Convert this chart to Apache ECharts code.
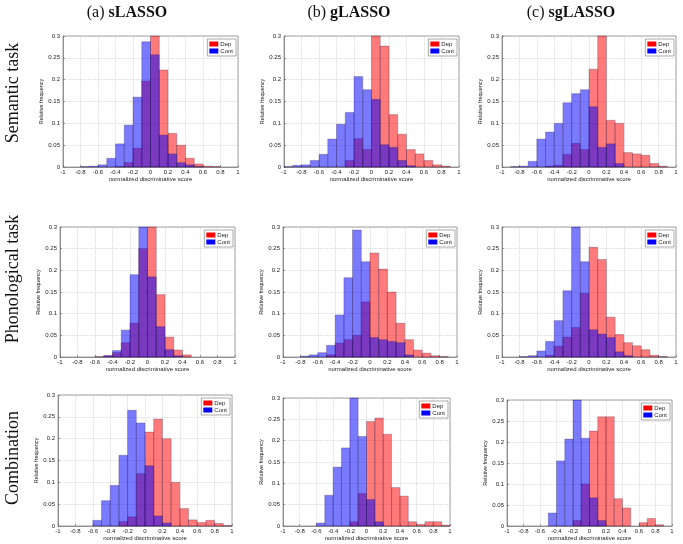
<!DOCTYPE html>
<html><head><meta charset="utf-8">
<script src="https://cdn.jsdelivr.net/npm/echarts@6/dist/echarts.min.js"></script>
<style>html,body{margin:0;padding:0;background:#fff}#c{width:683px;height:544px}</style>
</head><body><div id="c"></div>
<script>
// Histogram bins: left edges, width 0.1
const binStarts = [-1,-0.9,-0.8,-0.7,-0.6,-0.5,-0.4,-0.3,-0.2,-0.1,0,0.1,0.2,0.3,0.4,0.5,0.6,0.7,0.8,0.9];
const binWidth = 0.1;

// Semantic task
const semS_dep  = [0,0,0,0,0,0,0.001,0.01,0.043,0.197,0.30,0.222,0.077,0.05,0.02,0.007,0.002,0.001,0,0];
const semS_cont = [0,0,0.001,0.002,0.005,0.02,0.053,0.096,0.16,0.287,0.257,0.073,0.03,0.01,0.005,0.001,0,0,0,0];
const semG_dep  = [0,0,0,0,0,0,0,0.015,0.065,0.04,0.30,0.277,0.12,0.075,0.04,0.03,0.015,0.005,0.002,0];
const semG_cont = [0.001,0.004,0.005,0.015,0.029,0.064,0.098,0.125,0.207,0.177,0.155,0.051,0.045,0.015,0.003,0,0,0,0,0];
const semSG_dep  = [0,0,0,0,0,0.002,0.004,0.029,0.054,0.04,0.224,0.30,0.107,0.10,0.033,0.03,0.027,0.008,0.002,0];
const semSG_cont = [0,0.001,0.002,0.013,0.064,0.08,0.10,0.147,0.168,0.177,0.138,0.045,0.053,0.008,0,0,0,0,0,0];
// Phonological task
const phoS_dep  = [0,0,0,0,0.001,0.003,0.01,0.033,0.078,0.25,0.30,0.144,0.046,0.016,0.005,0,0,0,0,0];
const phoS_cont = [0,0,0,0,0,0.003,0.015,0.062,0.19,0.30,0.185,0.07,0.017,0.003,0,0,0,0,0,0];
const phoG_dep  = [0,0,0,0,0,0.005,0.032,0.04,0.05,0.127,0.24,0.203,0.15,0.078,0.04,0.016,0.009,0.003,0.001,0];
const phoG_cont = [0,0,0.002,0.005,0.01,0.027,0.097,0.183,0.293,0.22,0.045,0.04,0.036,0.033,0.005,0,0,0,0,0];
const phoSG_dep  = [0,0,0,0,0,0.004,0.025,0.046,0.068,0.147,0.253,0.225,0.092,0.052,0.033,0.026,0.017,0.004,0.001,0];
const phoSG_cont = [0,0,0.001,0.003,0.014,0.036,0.084,0.153,0.30,0.22,0.063,0.053,0.045,0.012,0.003,0,0,0,0,0];
// Combination
const comS_dep  = [0,0,0,0,0,0,0,0.01,0.021,0.12,0.215,0.245,0.20,0.10,0.04,0.014,0.008,0.013,0.006,0.001];
const comS_cont = [0,0,0,0,0.013,0.058,0.093,0.162,0.265,0.236,0.138,0.023,0.007,0,0,0,0,0,0,0];
const comG_dep  = [0,0,0,0,0,0,0,0,0.01,0.076,0.245,0.253,0.215,0.09,0.07,0.01,0.004,0.01,0.01,0.002];
const comG_cont = [0,0,0,0,0.007,0.072,0.138,0.183,0.30,0.21,0.062,0.01,0,0,0,0,0,0,0,0];
const comSG_dep  = [0,0,0,0,0,0,0,0,0.013,0.10,0.226,0.26,0.26,0.065,0.043,0,0.008,0.018,0.003,0];
const comSG_cont = [0,0,0,0,0,0.031,0.155,0.207,0.30,0.209,0.067,0.013,0,0,0,0,0,0,0,0];

const seriesNames = ['Dep', 'Cont'];
const columnTitles = [['(a) ', 'sLASSO'], ['(b) ', 'gLASSO'], ['(c) ', 'sgLASSO']];
const rowLabels = ['Semantic task', 'Phonological task', 'Combination'];
const xAxisName = 'normalized discriminative score';
const yAxisName = 'Relative frequency';

const panelData = [
  [semS_dep, semS_cont], [semG_dep, semG_cont], [semSG_dep, semSG_cont],
  [phoS_dep, phoS_cont], [phoG_dep, phoG_cont], [phoSG_dep, phoSG_cont],
  [comS_dep, comS_cont], [comG_dep, comG_cont], [comSG_dep, comSG_cont]
];

// layout (px)
const W = 683;
const boxes = [
  {left:63, top:36, width:175, height:131},
  {left:284, top:36, width:175, height:131},
  {left:502, top:36, width:174, height:131},
  {left:60, top:227, width:175, height:130},
  {left:283, top:227, width:174, height:130},
  {left:502, top:227, width:174, height:130},
  {left:58, top:395, width:174, height:131},
  {left:283, top:398, width:167, height:128},
  {left:507, top:400, width:165, height:126}
];
const fills = ['rgba(255,0,0,0.52)', 'rgba(0,0,255,0.52)'];
const solid = ['#ff0000', '#0000ff'];
const sans = 'Liberation Sans, Arial, sans-serif';
const serif = 'Liberation Serif, DejaVu Serif, serif';

const grids = [], xAxes = [], yAxes = [], series = [], legends = [], graphics = [];
boxes.forEach((b, i) => {
  grids.push({left:b.left, top:b.top, width:b.width, height:b.height, containLabel:false,
    outerBoundsMode:'none', show:true, borderColor:'#666', borderWidth:0.6, backgroundColor:'#fff'});
  xAxes.push({type:'value', gridIndex:i, min:-1, max:1, interval:0.2,
    name:xAxisName, nameLocation:'middle', nameGap:9,
    nameTextStyle:{fontSize:6, color:'#222', fontFamily:sans},
    axisLine:{show:true, onZero:false, lineStyle:{color:'#666', width:0.6}},
    axisTick:{show:true, inside:true, length:2, lineStyle:{color:'#666', width:0.6}},
    axisLabel:{fontSize:6, color:'#222', margin:2, fontFamily:sans, showMinLabel:true, showMaxLabel:true},
    splitLine:{show:true, lineStyle:{type:'dotted', color:'#bdbdbd', width:0.6}}});
  yAxes.push({type:'value', gridIndex:i, min:0, max:0.3, interval:0.05,
    name:yAxisName, nameLocation:'middle', nameGap:15, nameRotate:90,
    nameTextStyle:{fontSize:5.5, color:'#222', fontFamily:sans},
    axisLine:{show:true, onZero:false, lineStyle:{color:'#666', width:0.6}},
    axisTick:{show:true, inside:true, length:2, lineStyle:{color:'#666', width:0.6}},
    axisLabel:{fontSize:6, color:'#222', margin:3, fontFamily:sans, showMinLabel:true, showMaxLabel:true},
    splitLine:{show:true, lineStyle:{type:'dotted', color:'#bdbdbd', width:0.6}}});
  panelData[i].forEach((vals, s) => {
    const fill = fills[s];
    series.push({type:'custom', name:seriesNames[s], xAxisIndex:i, yAxisIndex:i,
      itemStyle:{color:solid[s]},
      encode:{x:0, y:1},
      data: binStarts.map((x0, k) => [x0, vals[k]]),
      renderItem: function (params, api) {
        const x0 = api.value(0), v = api.value(1);
        if (!(v > 0)) return null;
        const p0 = api.coord([x0, 0]);
        const p1 = api.coord([x0 + binWidth, v]);
        return {type:'rect',
          shape:{x:p0[0], y:p1[1], width:p1[0]-p0[0], height:p0[1]-p1[1]},
          style:{fill:fill, stroke:'rgba(40,20,60,0.5)', lineWidth:0.5}};
      }});
  });
  legends.push({show:true, orient:'vertical', right: W - (b.left + b.width) + 2, top: b.top + 3,
    itemWidth:9, itemHeight:5, itemGap:1, icon:'rect',
    padding:[2,3,2,2], backgroundColor:'#fff', borderColor:'#555', borderWidth:0.5, borderRadius:0,
    textStyle:{fontSize:6, color:'#222', fontFamily:sans, padding:[0,0,0,-3]},
    selectedMode:false,
    data:[{name:'Dep', itemStyle:{color:solid[0], opacity:1}}, {name:'Cont', itemStyle:{color:solid[1], opacity:1}}]});
});

const titleX = [127, 349, 571];
columnTitles.forEach((t, i) => {
  graphics.push({type:'text', x:titleX[i], y:13, style:{
    text:'{n|' + t[0] + '}{b|' + t[1] + '}', align:'center', verticalAlign:'middle',
    rich:{n:{fontFamily:serif, fontSize:16, fill:'#111'}, b:{fontFamily:serif, fontSize:16, fontWeight:'bold', fill:'#111'}}}});
});
const rowY = [93, 279, 458];
rowLabels.forEach((t, i) => {
  graphics.push({type:'text', x:13, y:rowY[i], rotation:Math.PI/2, style:{
    text:t, align:'center', verticalAlign:'middle', fontFamily:serif, fontSize:18, fill:'#111'}});
});

const chart = echarts.init(document.getElementById('c'), null, {renderer:'canvas'});
chart.setOption({animation:false, backgroundColor:'#fff',
  grid:grids, xAxis:xAxes, yAxis:yAxes, series:series, legend:legends, graphic:graphics});
</script></body></html>
